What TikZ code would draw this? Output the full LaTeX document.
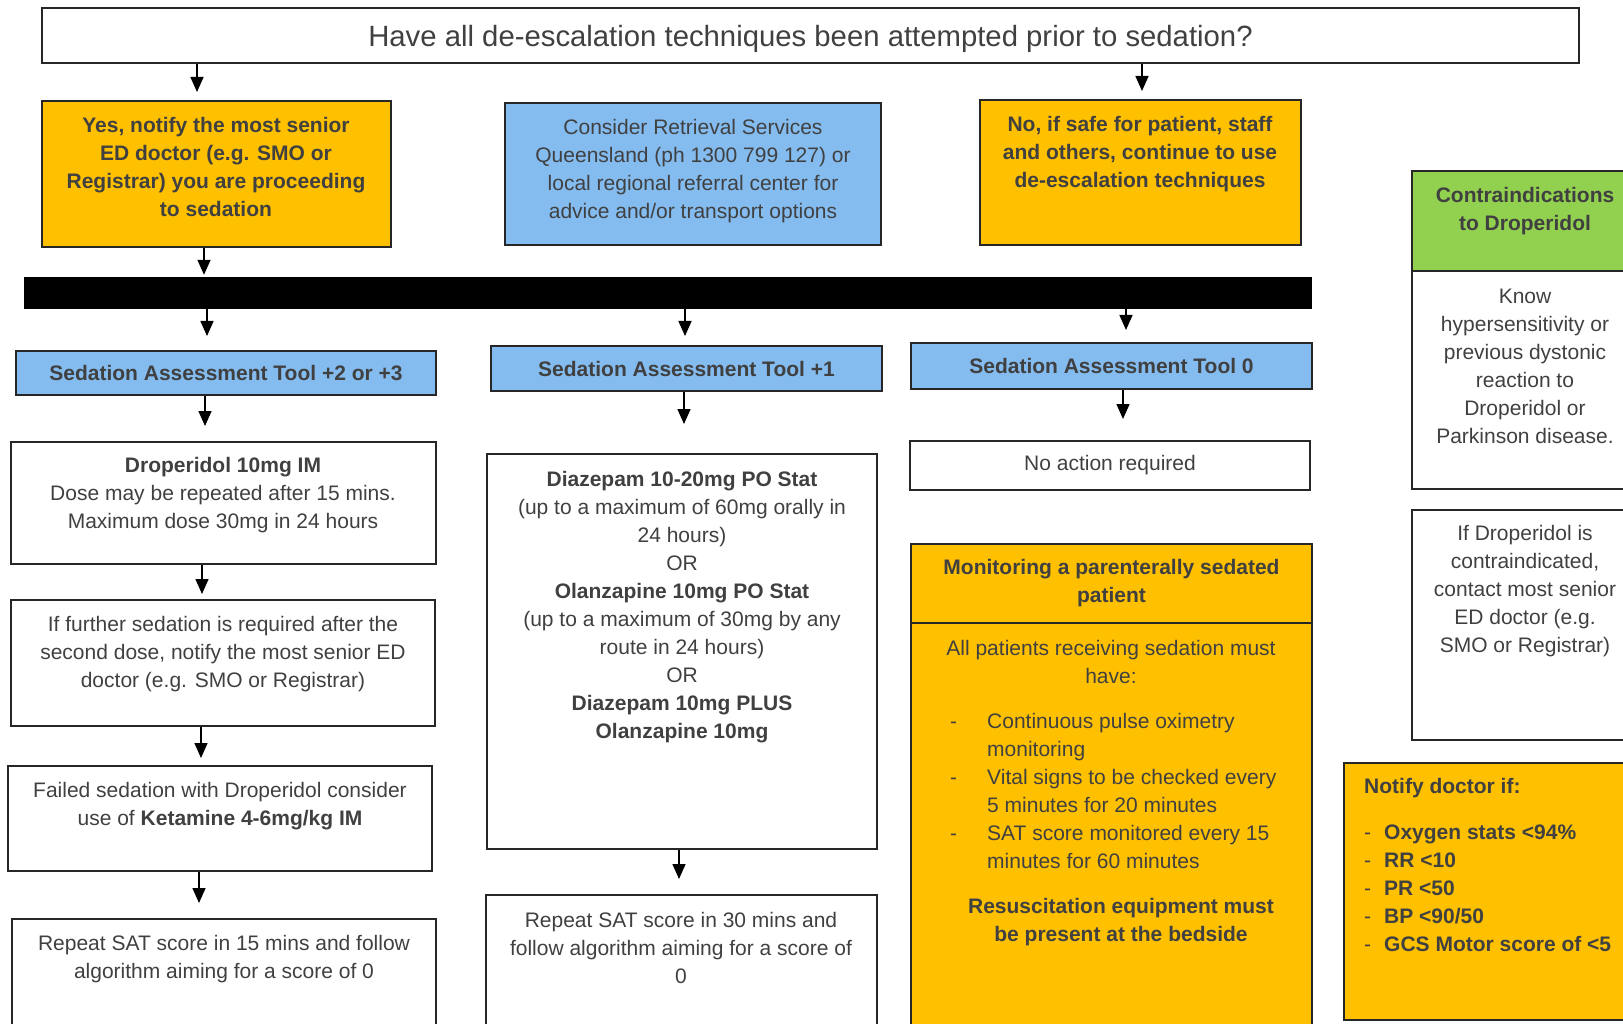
\documentclass[tikz,border=0pt]{standalone}
\usepackage{fontspec}
\setmainfont{Liberation Sans}
\usepackage{tikz}
\usetikzlibrary{arrows.meta}

\definecolor{ambar}{HTML}{FFC000}
\definecolor{skyb}{RGB}{132,188,240}
\definecolor{leafg}{HTML}{92D050}
\definecolor{txtgray}{HTML}{404040}

\newcommand{\bodyfont}{\fontsize{21}{28}\selectfont}
\newcommand{\titlefont}{\fontsize{29.3}{35}\selectfont}
\newcommand{\dashitem}[1]{\makebox[37pt][l]{-}#1}
\newcommand{\dashpad}{\hspace*{37pt}}
\newcommand{\notifyitem}[1]{\makebox[20pt][l]{\mdseries -}#1}

\begin{document}
\begin{tikzpicture}[
          x=1pt, y=-1pt,
          box/.style={draw=black!85, line width=2pt, inner sep=0pt},
          obox/.style={box, fill=ambar},
          bbox/.style={box, fill=skyb},
          gbox/.style={box, fill=leafg},
          txt/.style={text=txtgray, align=center, inner sep=0pt, font=\bodyfont},
          btxt/.style={txt, font=\bodyfont\bfseries},
          arr/.style={-{Triangle[width=13pt,length=15pt]}, line width=1.5pt}
      ]
        \useasboundingbox (0,0) rectangle (1623,1024);
        \clip (0,0) rectangle (1623,1024);

        % question at the top
        \node[box, minimum width=1537, minimum height=55, text=txtgray, font=\titlefont, text depth=0pt] (question) at (810.5,35.5)
            {Have all de-escalation techniques been attempted prior to sedation?};

        % first row: yes / retrieval / no
        \node[obox, minimum width=349, minimum height=146] (yesbox) at (216.5,174) {};
        \node[btxt] (yestxt) at (216,167) {Yes, notify the most senior\\ED doctor (e.g. SMO or\\Registrar) you are proceeding\\to sedation};
        \node[bbox, minimum width=376, minimum height=142] (retrieval) at (693,174) {};
        \node[txt] (retrievaltxt) at (693,171.5) {Consider Retrieval Services\\Queensland (ph 1300 799 127) or\\local regional referral center for\\advice and/or transport options};
        \node[obox, minimum width=321, minimum height=145] (nobox) at (1140.5,172.5) {};
        \node[btxt] (notxt) at (1140,154) {No, if safe for patient, staff\\and others, continue to use\\de-escalation techniques};

        % black bar
        \node[fill=black, minimum width=1288, minimum height=32, inner sep=0pt] (bar) at (668,293) {};

        % SAT scores
        \node[bbox, btxt, minimum width=420, minimum height=44] (sat2) at (226,373) {Sedation Assessment Tool +2 or +3};
        \node[bbox, btxt, minimum width=391, minimum height=45] (sat1) at (686.5,368.5) {Sedation Assessment Tool +1};
        \node[bbox, btxt, minimum width=401, minimum height=46] (sat0) at (1111.5,366) {Sedation Assessment Tool 0};

        % left column
        \node[box, minimum width=425, minimum height=122] (droperidol) at (223.5,503) {};
        \node[txt] (droperidoltxt) at (223,495) {\textbf{Droperidol 10mg IM}\\Dose may be repeated after 15 mins.\\Maximum dose 30mg in 24 hours};
        \node[box, minimum width=424, minimum height=126] (further) at (223,663) {};
        \node[txt] (furthertxt) at (223,654) {If further sedation is required after the\\second dose, notify the most senior ED\\doctor (e.g. SMO or Registrar)};
        \node[box, minimum width=424, minimum height=105] (failed) at (220,818.5) {};
        \node[txt] (failedtxt) at (220,806) {Failed sedation with Droperidol consider\\use of \textbf{Ketamine 4-6mg/kg IM}};
        \node[box, minimum width=424, minimum height=121] (repeat15) at (224,979.5) {};
        \node[txt] (repeat15txt) at (224,959.5) {Repeat SAT score in 15 mins and follow\\algorithm aiming for a score of 0};

        % middle column
        \node[box, minimum width=390, minimum height=395] (diazepam) at (682,651.5) {};
        \node[txt] (diazepamtxt) at (682,607) {\textbf{Diazepam 10-20mg PO Stat}\\(up to a maximum of 60mg orally in\\24 hours)\\OR\\\textbf{Olanzapine 10mg PO Stat}\\(up to a maximum of 30mg by any\\route in 24 hours)\\OR\\\textbf{Diazepam 10mg PLUS}\\\textbf{Olanzapine 10mg}};
        \node[box, minimum width=391, minimum height=145] (repeat30) at (681.5,967.5) {};
        \node[txt] (repeat30txt) at (681,948) {Repeat SAT score in 30 mins and\\follow algorithm aiming for a score of\\0};

        % right middle column
        \node[box, txt, minimum width=400, minimum height=49] (noaction) at (1110,465.5) {No action required};
        \node[obox, btxt, minimum width=401, minimum height=79] (monhead) at (1111.5,583.5) {Monitoring a parenterally sedated\\patient};
        \node[obox, minimum width=401, minimum height=417] (monbody) at (1111.5,831.5) {};
        \node[txt] (montxt) at (1111,662) {All patients receiving sedation must\\have:};
        \node[txt, align=left, anchor=west] (monlist) at (950,791) {\dashitem{Continuous pulse oximetry}\\\dashpad monitoring\\\dashitem{Vital signs to be checked every}\\\dashpad 5 minutes for 20 minutes\\\dashitem{SAT score monitored every 15}\\\dashpad minutes for 60 minutes};
        \node[btxt] (resustxt) at (1121,922) {Resuscitation equipment must\\be present at the bedside};

        % right column
        \node[gbox, minimum width=228, minimum height=100] (contrahead) at (1526,221) {};
        \node[btxt] (contraheadtxt) at (1525,211) {Contraindications\\to Droperidol};
        \node[box, minimum width=228, minimum height=218] (contrabody) at (1526,380) {};
        \node[txt] (contrabodytxt) at (1525,366.5) {Know\\hypersensitivity or\\previous dystonic\\reaction to\\Droperidol or\\Parkinson disease.};
        \node[box, minimum width=228, minimum height=230] (ifdrop) at (1526,625) {};
        \node[txt] (ifdroptxt) at (1525,591.5) {If Droperidol is\\contraindicated,\\contact most senior\\ED doctor (e.g.\\SMO or Registrar)};
        \node[obox, minimum width=296, minimum height=257] (notify) at (1492,891.5) {};
        \node[btxt, anchor=west] (notifyhd) at (1364,788) {Notify doctor if:};
        \node[btxt, align=left, anchor=west] (notifylist) at (1364,888.5) {\notifyitem{Oxygen stats <94\%}\\\notifyitem{RR <10}\\\notifyitem{PR <50}\\\notifyitem{BP <90/50}\\\notifyitem{GCS Motor score of <5}};

        % arrows
        \draw[arr, shorten >=8pt] (question.south -| 197,0) -- (yesbox.north -| 197,0);
        \draw[arr, shorten >=8pt] (question.south -| 1142,0) -- (nobox.north -| 1142,0);
        \draw[arr, shorten >=2pt] (yesbox.south -| 204,0) -- (bar.north -| 204,0);
        \draw[arr, shorten >=14pt] (bar.south -| 207,0) -- (sat2.north -| 207,0);
        \draw[arr, shorten >=9pt] (bar.south -| 685,0) -- (sat1.north -| 685,0);
        \draw[arr, shorten >=12pt] (bar.south -| 1126,0) -- (sat0.north -| 1126,0);
        \draw[arr, shorten >=15pt] (sat2.south -| 205,0) -- (droperidol.north -| 205,0);
        \draw[arr, shorten >=29pt] (sat1.south -| 684,0) -- (diazepam.north -| 684,0);
        \draw[arr, shorten >=21pt] (sat0.south -| 1123,0) -- (noaction.north -| 1123,0);
        \draw[arr, shorten >=5pt] (droperidol.south -| 202,0) -- (further.north -| 202,0);
        \draw[arr, shorten >=7pt] (further.south -| 201,0) -- (failed.north -| 201,0);
        \draw[arr, shorten >=15pt] (failed.south -| 199,0) -- (repeat15.north -| 199,0);
        \draw[arr, shorten >=15pt] (diazepam.south -| 679,0) -- (repeat30.north -| 679,0);
      \end{tikzpicture}
\end{document}
